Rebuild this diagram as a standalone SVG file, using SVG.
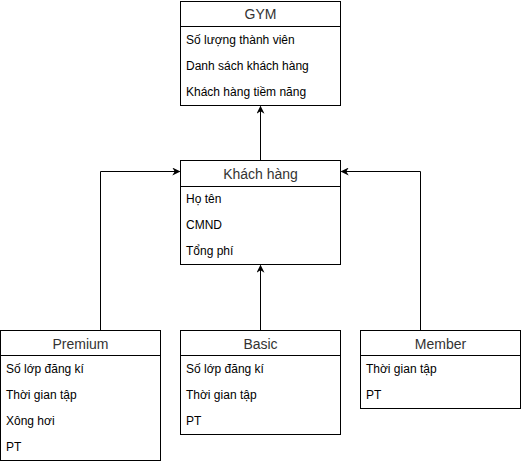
<svg xmlns="http://www.w3.org/2000/svg" width="522" height="464" viewBox="0 0 522 464">
<style>
.box{fill:#fff;stroke:#000;stroke-width:1}
.h{font-family:"Liberation Sans",Arial,sans-serif;font-size:14px;fill:#333;text-anchor:middle}
.r{font-family:"Liberation Sans",Arial,sans-serif;font-size:12px;fill:#000}
.c{fill:none;stroke:#000;stroke-width:1}
</style>
<defs>
<marker id="a" viewBox="0 0 10 10" refX="9" refY="5" markerWidth="8" markerHeight="8" markerUnits="userSpaceOnUse" orient="auto">
<path d="M0,0 L10,5 L0,10 L3,5 Z" fill="#000"/>
</marker>
</defs>
<rect width="522" height="464" fill="#fff"/>
<g id="connectors">
<path class="c" d="M260.5,160.5 V106.5" marker-end="url(#a)"/>
<path class="c" d="M100.5,330.5 V171.5 H179.5" marker-end="url(#a)"/>
<path class="c" d="M260.5,330.5 V265.5" marker-end="url(#a)"/>
<path class="c" d="M420.5,330.5 V171.5 H341.5" marker-end="url(#a)"/>
</g>
<g id="gym">
<rect class="box" x="180.5" y="1.5" width="160" height="104"/>
<line class="c" x1="180.5" y1="26.5" x2="340.5" y2="26.5"/>
<text class="h" x="260.5" y="19">GYM</text>
<text class="r" x="186" y="44">Số lượng thành viên</text>
<text class="r" x="186" y="70">Danh sách khách hàng</text>
<text class="r" x="186" y="96">Khách hàng tiềm năng</text>
</g>
<g id="khachhang">
<rect class="box" x="180.5" y="160.5" width="160" height="104"/>
<line class="c" x1="180.5" y1="186.5" x2="340.5" y2="186.5"/>
<text class="h" x="260.5" y="179">Khách hàng</text>
<text class="r" x="186" y="203">Họ tên</text>
<text class="r" x="186" y="229">CMND</text>
<text class="r" x="186" y="255">Tổng phí</text>
</g>
<g id="premium">
<rect class="box" x="0.5" y="330.5" width="160" height="130"/>
<line class="c" x1="0.5" y1="355.5" x2="160.5" y2="355.5"/>
<text class="h" x="80.5" y="349">Premium</text>
<text class="r" x="6" y="373">Số lớp đăng kí</text>
<text class="r" x="6" y="399">Thời gian tập</text>
<text class="r" x="6" y="425">Xông hơi</text>
<text class="r" x="6" y="451">PT</text>
</g>
<g id="basic">
<rect class="box" x="180.5" y="330.5" width="160" height="104"/>
<line class="c" x1="180.5" y1="355.5" x2="340.5" y2="355.5"/>
<text class="h" x="260.5" y="349">Basic</text>
<text class="r" x="186" y="373">Số lớp đăng kí</text>
<text class="r" x="186" y="399">Thời gian tập</text>
<text class="r" x="186" y="425">PT</text>
</g>
<g id="member">
<rect class="box" x="360.5" y="330.5" width="160" height="78"/>
<line class="c" x1="360.5" y1="355.5" x2="520.5" y2="355.5"/>
<text class="h" x="440.5" y="349">Member</text>
<text class="r" x="366" y="373">Thời gian tập</text>
<text class="r" x="366" y="399">PT</text>
</g>
</svg>
